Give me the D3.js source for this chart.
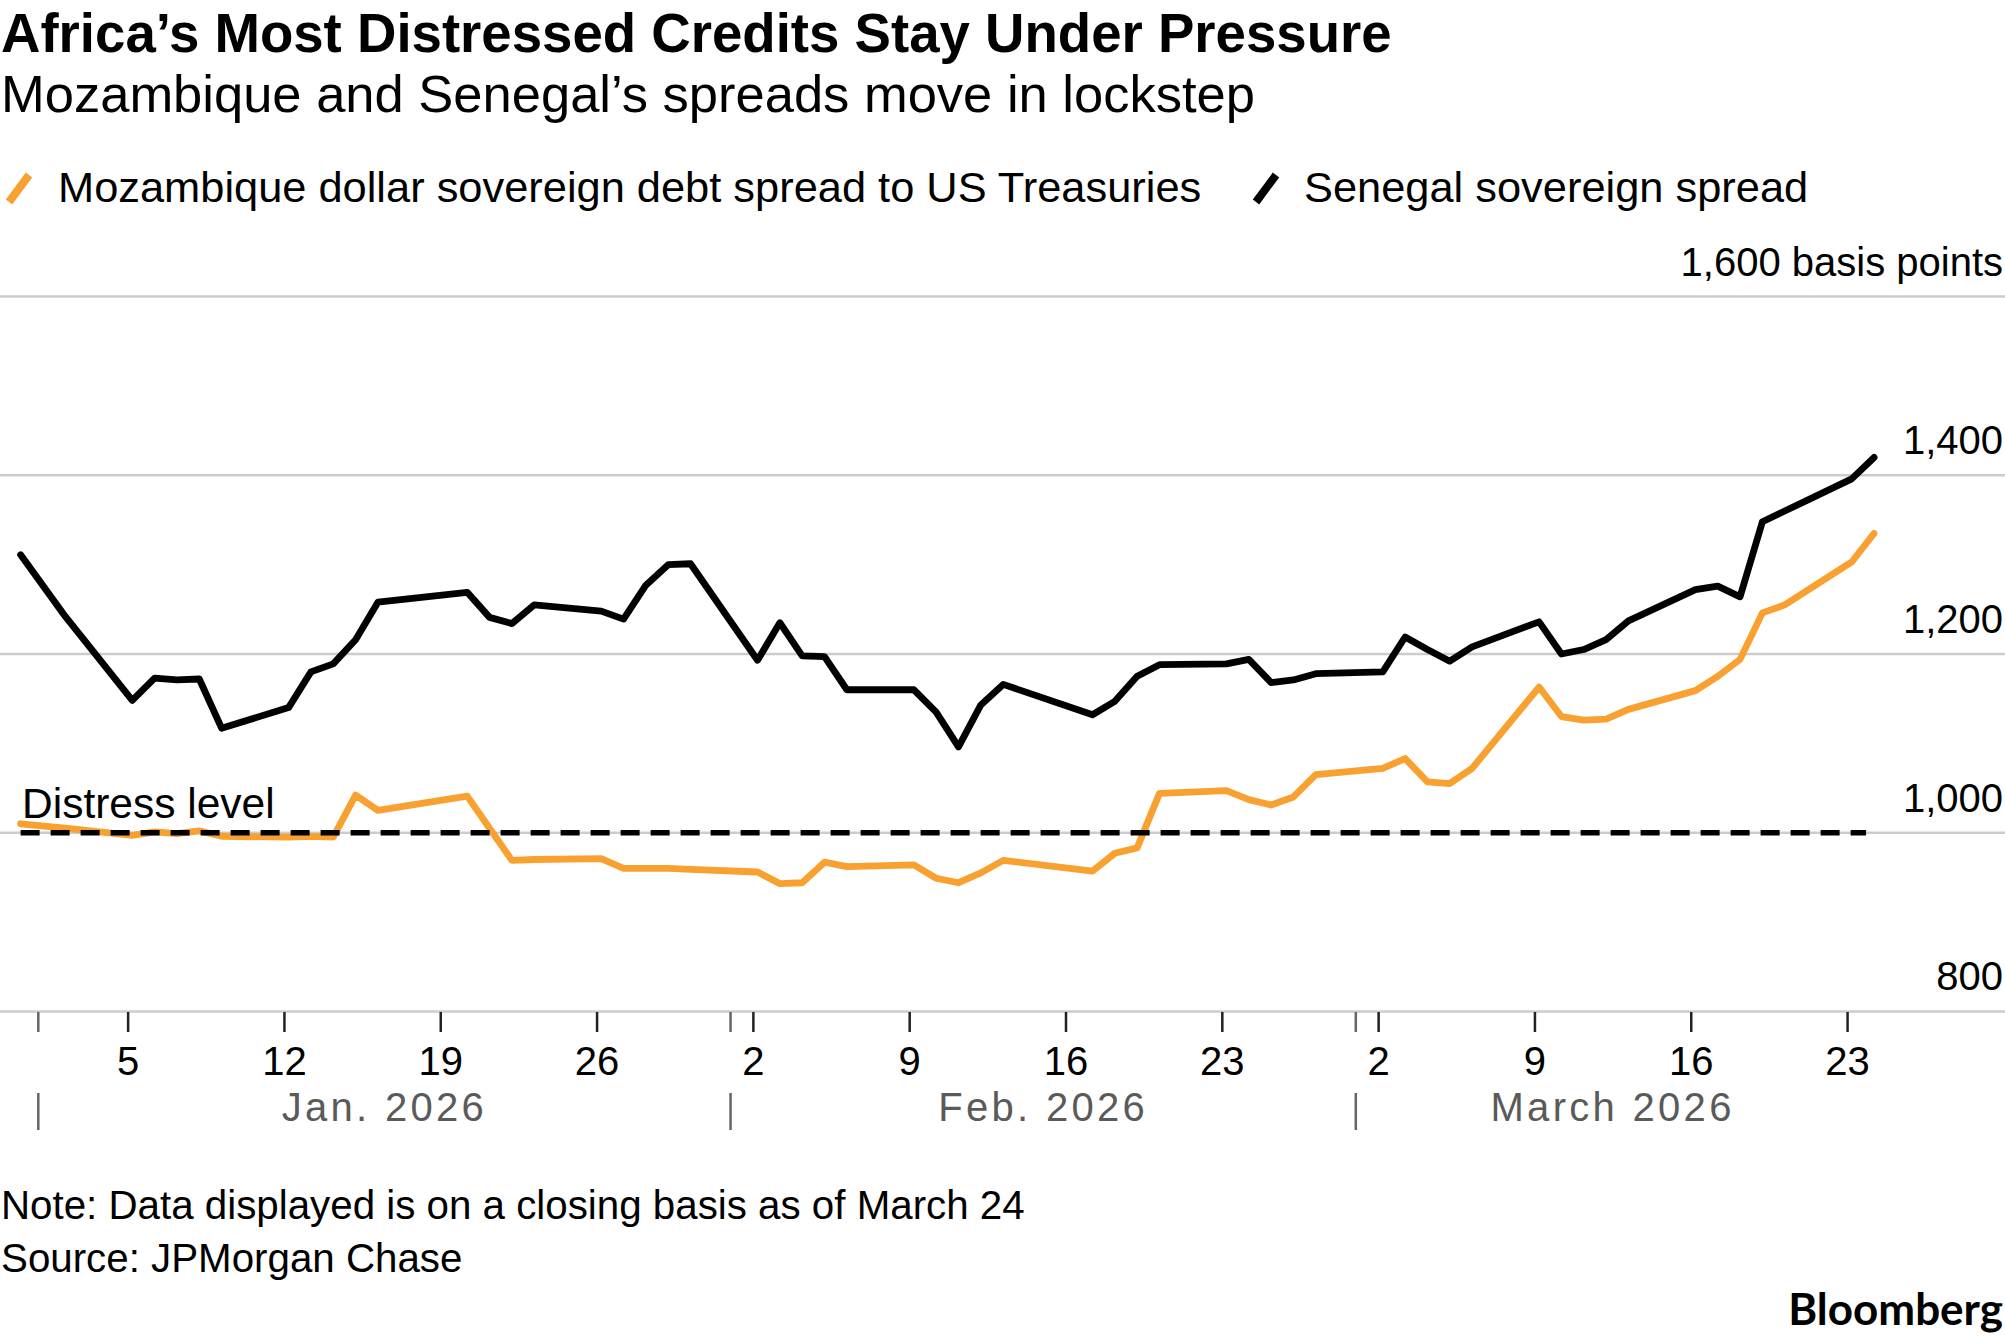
<!DOCTYPE html>
<html><head><meta charset="utf-8">
<script src="https://cdn.jsdelivr.net/npm/d3@7"></script>
<style>
html,body{margin:0;padding:0;background:#fff;}
svg{display:block;font-family:"Liberation Sans",Arial,Helvetica,sans-serif;}
</style></head><body>
<svg id="chart" width="2005" height="1341"></svg>
<script>
// ---------- DATA ----------
const dates = [
  "2025-12-31","2026-01-02","2026-01-05","2026-01-06","2026-01-07","2026-01-08","2026-01-09",
  "2026-01-12","2026-01-13","2026-01-14","2026-01-15","2026-01-16","2026-01-20","2026-01-21",
  "2026-01-22","2026-01-23","2026-01-26","2026-01-27","2026-01-28","2026-01-29","2026-01-30",
  "2026-02-02","2026-02-03","2026-02-04","2026-02-05","2026-02-06","2026-02-09","2026-02-10",
  "2026-02-11","2026-02-12","2026-02-13","2026-02-17","2026-02-18","2026-02-19","2026-02-20",
  "2026-02-23","2026-02-24","2026-02-25","2026-02-26","2026-02-27","2026-03-02","2026-03-03",
  "2026-03-04","2026-03-05","2026-03-06","2026-03-09","2026-03-10","2026-03-11","2026-03-12",
  "2026-03-13","2026-03-16","2026-03-17","2026-03-18","2026-03-19","2026-03-20","2026-03-23",
  "2026-03-24"
];
const mozambique = [
  1010,1005,997,1001,999,1002,996,
  995,996,995,1042,1025,1041,1005,
  969,970,971,960,960,960,959,
  956,943,944,967,962,964,949,
  944,955,969,957,977,983,1044,
  1047,1037,1031,1040,1065,1072,1083,
  1057,1055,1072,1163,1130,1126,1127,
  1138,1159,1175,1194,1246,1255,1303,
  1335
];
const senegal = [
  1311,1242,1148,1173,1171,1172,1117,
  1140,1180,1189,1216,1258,1269,1241,
  1234,1255,1248,1239,1277,1300,1301,
  1193,1235,1198,1197,1160,1160,1135,
  1096,1143,1166,1132,1147,1175,1188,
  1189,1194,1168,1171,1178,1180,1219,
  1205,1192,1208,1236,1200,1205,1216,
  1237,1272,1276,1264,1348,1360,1396,
  1420
];
const distressLevel = 1000;
const yTicks = [800, 1000, 1200, 1400, 1600];
const yTickLabels = ["800", "1,000", "1,200", "1,400", "1,600 basis points"];
const dayTicks = ["2026-01-05","2026-01-12","2026-01-19","2026-01-26","2026-02-02","2026-02-09",
  "2026-02-16","2026-02-23","2026-03-02","2026-03-09","2026-03-16","2026-03-23"];
const dayTickLabels = ["5","12","19","26","2","9","16","23","2","9","16","23"];
const monthStarts = ["2026-01-01","2026-02-01","2026-03-01"];
const monthLabels = ["Jan. 2026","Feb. 2026","March 2026"];
const seriesNames = ["Mozambique dollar sovereign debt spread to US Treasuries","Senegal sovereign spread"];
const seriesColors = ["#f9a130","#000000"];

// ---------- SCALES ----------
const parse = d3.utcParse("%Y-%m-%d");
const svg = d3.select("#chart");
const W = 2005;
const x = d3.scaleUtc()
  .domain([parse("2026-01-01"), parse("2026-03-24")])
  .range([38.3, 1869.4]);
const y = d3.scaleLinear().domain([800, 1600]).range([1011.4, 296.6]);
const closeOffset = d => d3.utcHour.offset(parse(d), 5);

// ---------- HEADER ----------
svg.append("text").attr("x", 1).attr("y", 52)
  .attr("font-size", 54.6).attr("font-weight", 700).attr("fill", "#000")
  .text("Africa’s Most Distressed Credits Stay Under Pressure");
svg.append("text").attr("x", 1).attr("y", 112)
  .attr("font-size", 52.5).attr("fill", "#000")
  .text("Mozambique and Senegal’s spreads move in lockstep");

// legend
const leg = svg.append("g");
const legItems = [{sx: 9, tx: 58}, {sx: 1256, tx: 1304}];
legItems.forEach((p, i) => {
  leg.append("line").attr("x1", p.sx).attr("y1", 202).attr("x2", p.sx + 20).attr("y2", 175)
    .attr("stroke", seriesColors[i]).attr("stroke-width", 8);
  leg.append("text").attr("x", p.tx).attr("y", 202).attr("font-size", 43.4).attr("fill", "#000")
    .text(seriesNames[i]);
});

// ---------- GRID ----------
const grid = svg.append("g");
yTicks.forEach((t, i) => {
  grid.append("line").attr("x1", 0).attr("x2", W).attr("y1", y(t)).attr("y2", y(t))
    .attr("stroke", "#cccccc").attr("stroke-width", 2.5);
  grid.append("text").attr("x", 2003).attr("y", y(t) - 21).attr("text-anchor", "end")
    .attr("font-size", 40).attr("fill", "#000").text(yTickLabels[i]);
});

// ---------- X AXIS ----------
const xAxis = d3.axisBottom(x)
  .tickValues(dayTicks.map(parse))
  .tickFormat((d, i) => dayTickLabels[i])
  .tickSize(20).tickPadding(15);
const gx = svg.append("g").attr("transform", "translate(0,1012)").call(xAxis);
gx.select(".domain").remove();
gx.selectAll(".tick line").attr("stroke", "#222").attr("stroke-width", 2.5);
gx.selectAll(".tick text").attr("font-size", 40).attr("fill", "#000")
  .attr("font-family", "'Liberation Sans',Arial,sans-serif");

const months = svg.append("g");
monthStarts.forEach((m, i) => {
  const mx = x(parse(m));
  months.append("line").attr("x1", mx).attr("x2", mx).attr("y1", 1012).attr("y2", 1032)
    .attr("stroke", "#666").attr("stroke-width", 2.5);
  months.append("line").attr("x1", mx).attr("x2", mx).attr("y1", 1093).attr("y2", 1130)
    .attr("stroke", "#666").attr("stroke-width", 2.5);
  const endX = i < monthStarts.length - 1 ? x(parse(monthStarts[i + 1])) : x.range()[1];
  months.append("text").attr("x", (mx + endX) / 2).attr("y", 1121)
    .attr("text-anchor", "middle").attr("font-size", 40).attr("letter-spacing", 3.3)
    .attr("fill", "#5a5a5a").text(monthLabels[i]);
});

// ---------- LINES ----------
const line = d3.line().x((d, i) => x(closeOffset(dates[i]))).y(d => y(d));
svg.append("path").datum(mozambique).attr("d", line)
  .attr("fill", "none").attr("stroke", seriesColors[0]).attr("stroke-width", 6.8)
  .attr("stroke-linejoin", "round").attr("stroke-linecap", "round");
svg.append("path").datum(senegal).attr("d", line)
  .attr("fill", "none").attr("stroke", seriesColors[1]).attr("stroke-width", 6.8)
  .attr("stroke-linejoin", "round").attr("stroke-linecap", "round");

// distress level
svg.append("line")
  .attr("x1", x(closeOffset(dates[0]))).attr("x2", x(closeOffset(dates[dates.length - 1])) - 8)
  .attr("y1", y(distressLevel)).attr("y2", y(distressLevel))
  .attr("stroke", "#000").attr("stroke-width", 5.5).attr("stroke-dasharray", "19 11");
svg.append("text").attr("x", 22).attr("y", y(distressLevel) - 15)
  .attr("font-size", 42.5).attr("fill", "#000").text("Distress level");

// ---------- FOOTER ----------
svg.append("text").attr("x", 1).attr("y", 1219).attr("font-size", 40.3).attr("fill", "#000")
  .text("Note: Data displayed is on a closing basis as of March 24");
svg.append("text").attr("x", 1).attr("y", 1272).attr("font-size", 40.3).attr("fill", "#000")
  .text("Source: JPMorgan Chase");
svg.append("text").attr("x", 2003).attr("y", 1325).attr("text-anchor", "end")
  .attr("font-family", "Lato, 'Noto Sans', sans-serif").attr("font-weight", 700)
  .attr("font-size", 44).attr("fill", "#000").text("Bloomberg");
</script>
</body></html>
